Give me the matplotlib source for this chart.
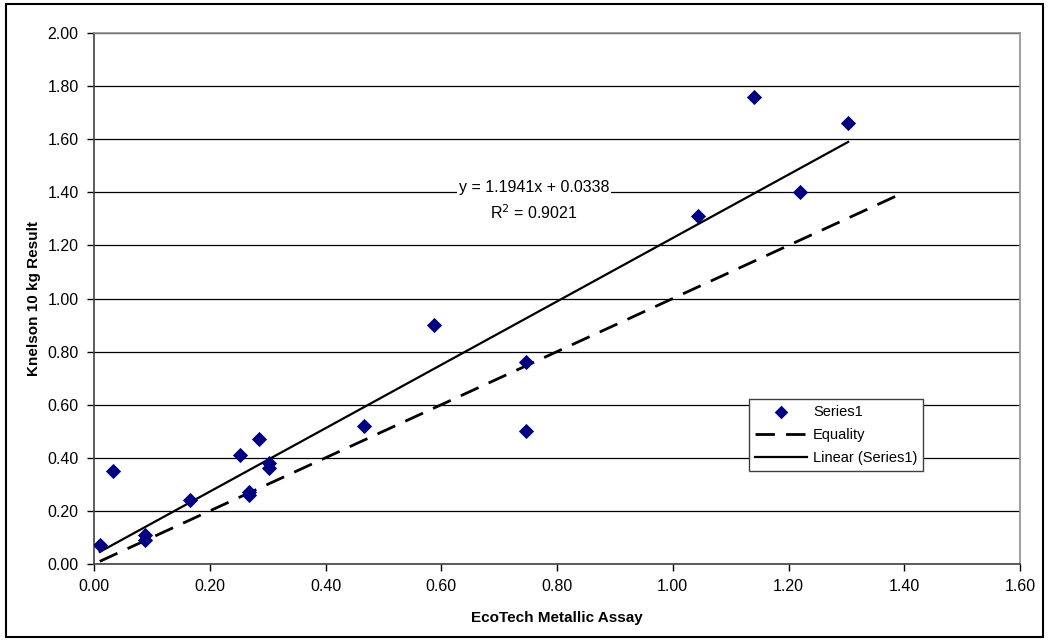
import numpy as np
import matplotlib.pyplot as plt
from matplotlib.patches import Rectangle

plt.rcParams['font.family'] = ['Liberation Sans', 'DejaVu Sans']

# Series1 values
ecotech = [0.01, 0.033, 0.088, 0.088, 0.166, 0.252, 0.267, 0.268, 0.285, 0.302, 0.303,
           0.467, 0.588, 0.747, 0.747, 1.043, 1.141, 1.22, 1.303]
knelson = [0.07, 0.35, 0.11, 0.09, 0.24, 0.41, 0.27, 0.26, 0.47, 0.36, 0.38,
           0.52, 0.90, 0.76, 0.50, 1.31, 1.76, 1.40, 1.66]

# equality line end points
equality_x = [0.01, 1.39]
equality_y = [0.01, 1.39]

# trend line coefficients (Excel)
slope = 1.1941
intercept = 0.0338
r2 = 0.9021

fig = plt.figure(figsize=(10.49, 6.41), dpi=100)
ax = fig.add_axes([0.0896, 0.1201, 0.8828, 0.8284])

# outer chart border
fig.patches.append(Rectangle((0.006, 0.007), 0.988, 0.986, transform=fig.transFigure,
                             fill=False, edgecolor='black', linewidth=1.5))

ax.scatter(ecotech, knelson, marker='D', s=60, color='#000080', zorder=4, label='Series1',
           linewidths=0)
ax.plot(equality_x, equality_y, color='black', linestyle=(0, (7, 4)), linewidth=2,
        label='Equality', zorder=3)
tx = np.array([min(ecotech), max(ecotech)])
ax.plot(tx, slope * tx + intercept, color='black', linewidth=1.6,
        label='Linear (Series1)', zorder=3)

ax.set_xlim(0, 1.6)
ax.set_ylim(0, 2.0)
ax.set_xticks(np.arange(0, 1.61, 0.2))
ax.set_yticks(np.arange(0, 2.01, 0.2))
ax.set_xticklabels(['%.2f' % v for v in np.arange(0, 1.61, 0.2)])
ax.set_yticklabels(['%.2f' % v for v in np.arange(0, 2.01, 0.2)])
ax.tick_params(labelsize=11.5, direction='out', length=5, width=1, pad=6)
ax.grid(axis='y', color='black', linewidth=0.9)
ax.set_axisbelow(True)

for s in ['left', 'bottom']:
    ax.spines[s].set_color('#404040')
    ax.spines[s].set_linewidth(1.2)
for s in ['top', 'right']:
    ax.spines[s].set_color('#909090')
    ax.spines[s].set_linewidth(1.2)

ax.set_xlabel('EcoTech Metallic Assay', fontsize=11, fontweight='bold', labelpad=12)
ax.set_ylabel('Knelson 10 kg Result', fontsize=11, fontweight='bold', labelpad=5)

ax.text(0.76, 1.447, 'y = 1.1941x + 0.0338\nR$^2$ = 0.%s' % str(r2).split('.')[1],
        fontsize=11.5, ha='center', va='top', linespacing=1.55,
        bbox=dict(facecolor='white', edgecolor='none', pad=1), zorder=5)

leg = ax.legend(loc='upper left', bbox_to_anchor=(0.707, 0.310), fontsize=10.5,
                frameon=True, fancybox=False, edgecolor='#404040', framealpha=1,
                handlelength=3.6, borderpad=0.4, labelspacing=0.62, handletextpad=0.4,
                borderaxespad=0)
leg.get_frame().set_linewidth(1)
leg.legend_handles[0].set_sizes([48])

fig.savefig('out.png', dpi=100)
